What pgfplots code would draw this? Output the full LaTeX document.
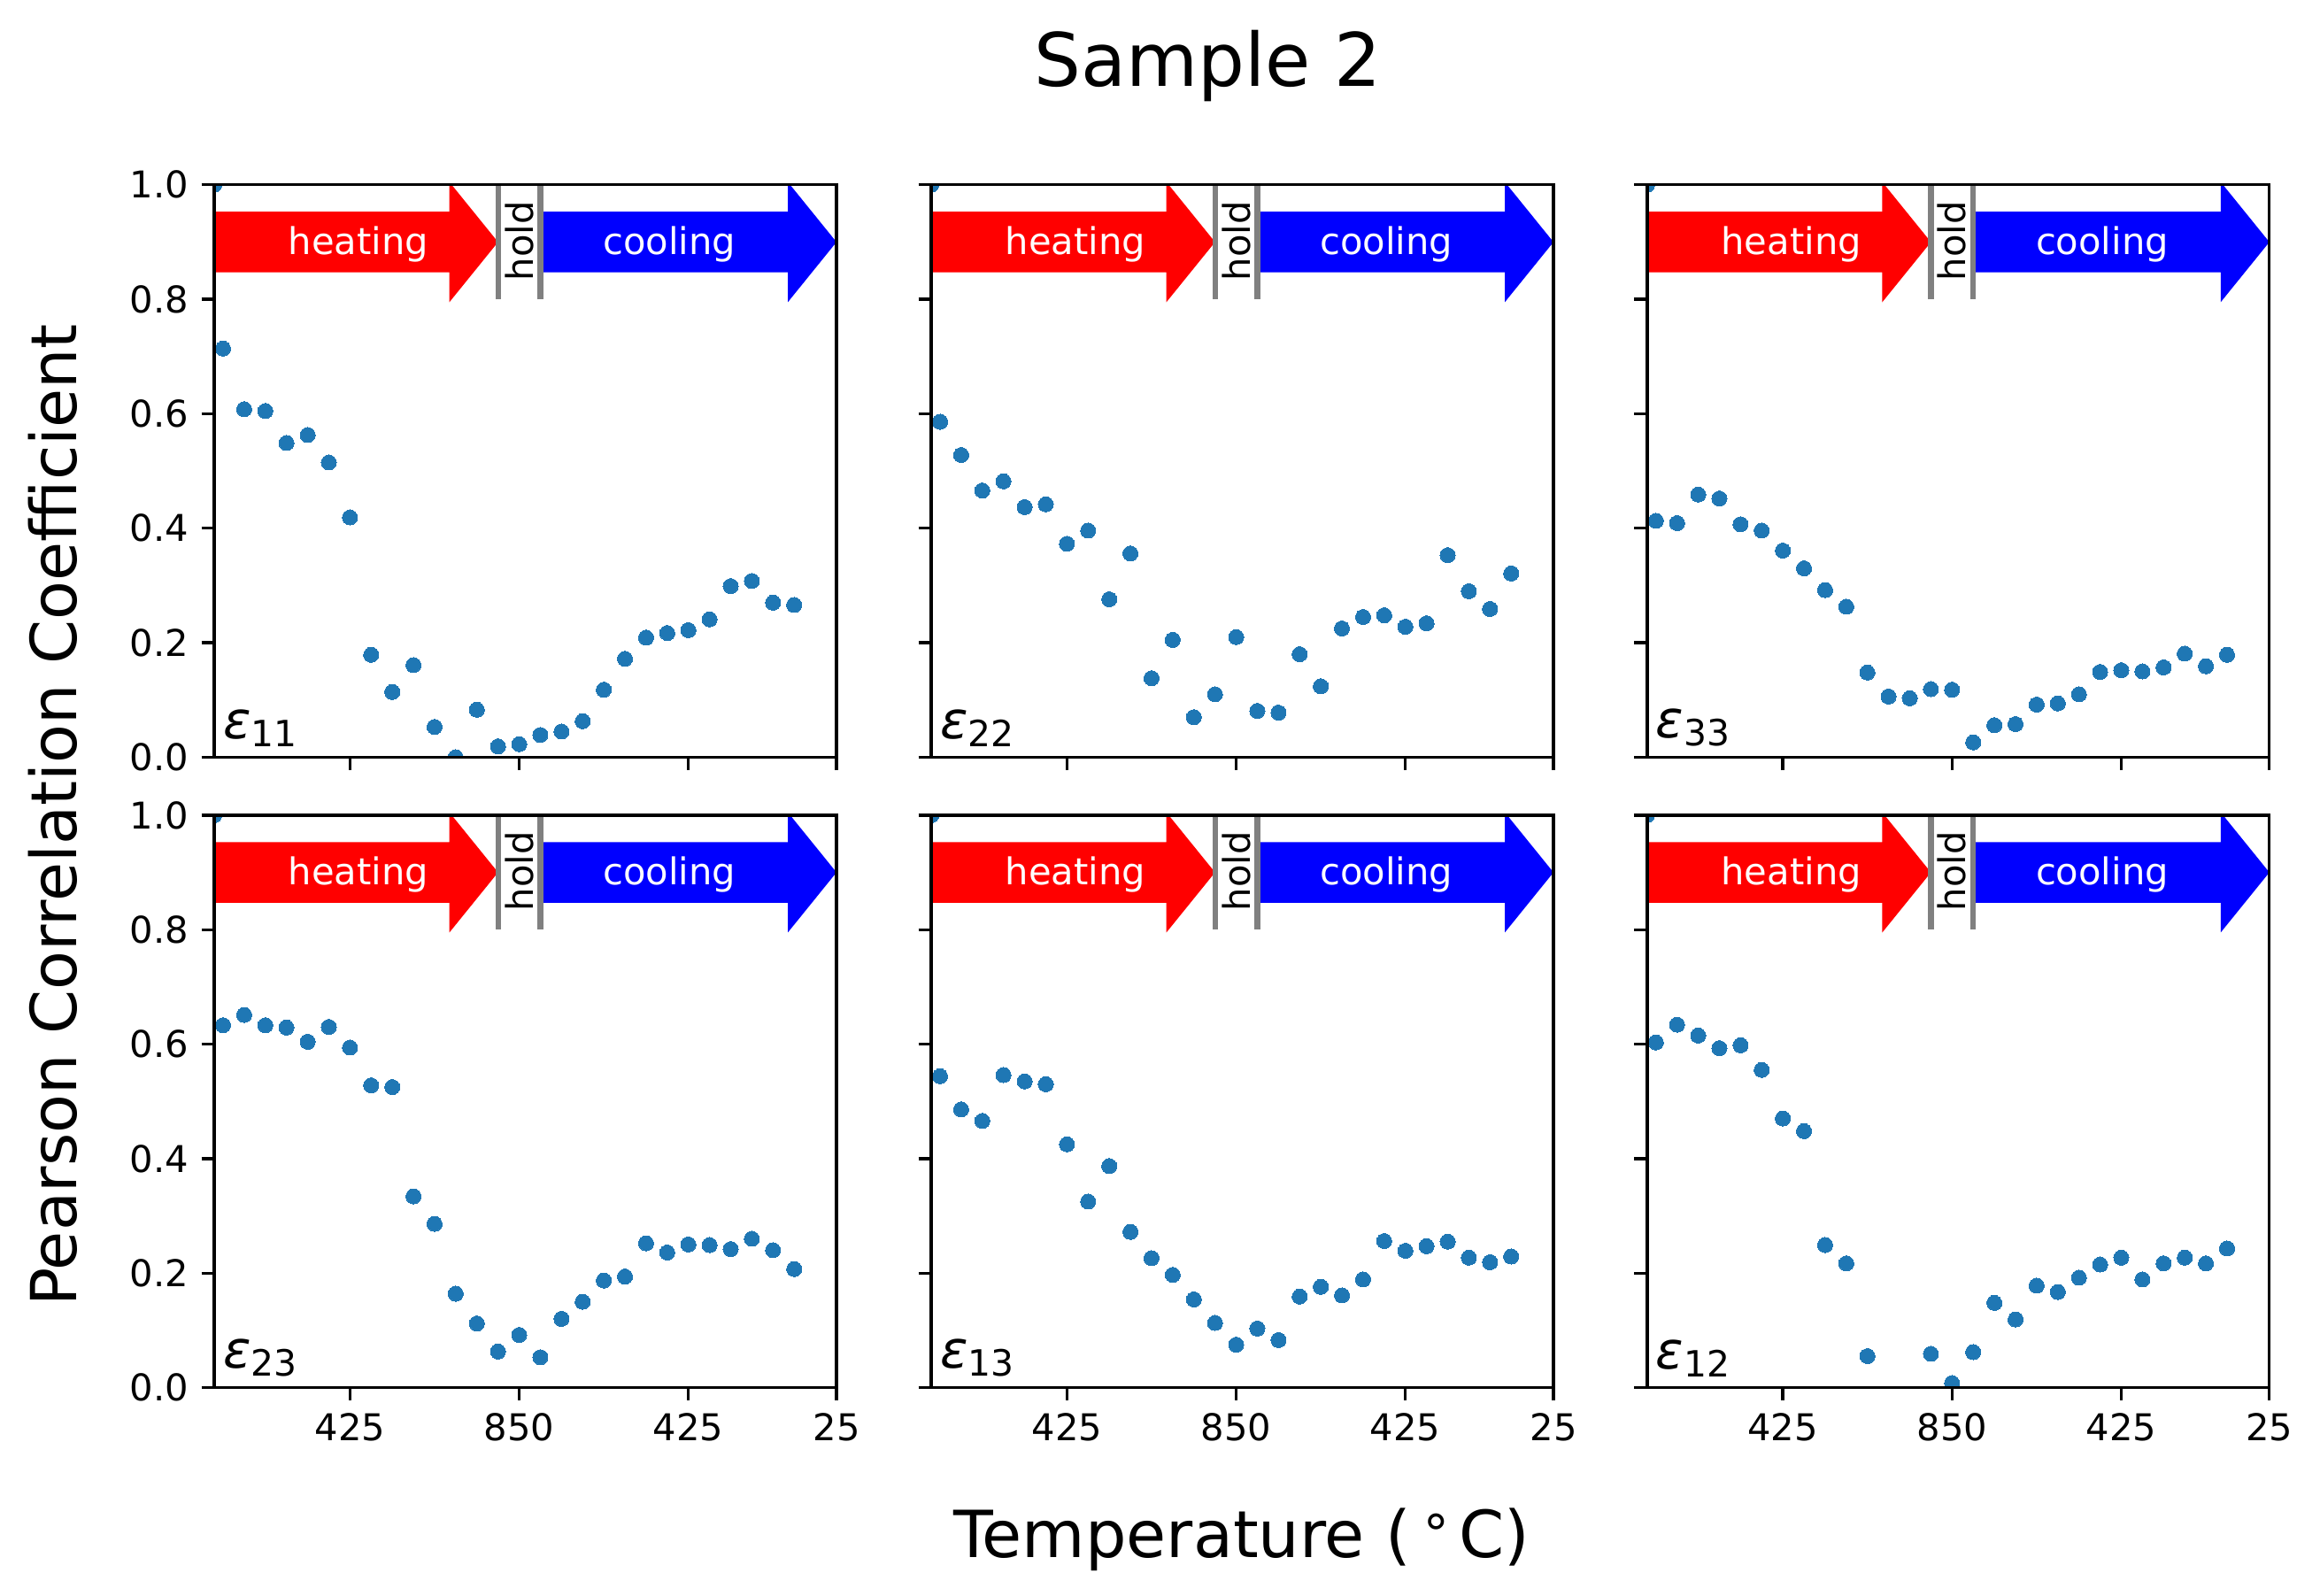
\documentclass[border=0pt]{standalone}
\usepackage{fontspec}
\setmainfont{DejaVu Sans}
\usepackage{pgfplots}
\pgfplotsset{compat=1.18}
\usepackage{pgfplotstable}
\definecolor{mplblue}{HTML}{1F77B4}
\definecolor{mplgray}{HTML}{808080}

\pgfplotstableread{
x y
0.585 1.0
1 0.714
2 0.608
3 0.605
4 0.549
5 0.563
6 0.515
7 0.419
8 0.179
9 0.114
10 0.161
11 0.053
12 0.000
13 0.083
14 0.019
15 0.023
16 0.039
17 0.045
18 0.063
19 0.118
20 0.172
21 0.209
22 0.217
23 0.222
24 0.241
25 0.299
26 0.308
27 0.270
28 0.266
}\dataA

\pgfplotstableread{
x y
0.585 1.0
1 0.586
2 0.528
3 0.466
4 0.482
5 0.437
6 0.442
7 0.373
8 0.396
9 0.276
10 0.356
11 0.138
12 0.205
13 0.070
14 0.110
15 0.210
16 0.081
17 0.078
18 0.180
19 0.124
20 0.225
21 0.245
22 0.248
23 0.228
24 0.234
25 0.353
26 0.290
27 0.259
28 0.321
}\dataB

\pgfplotstableread{
x y
0.585 1.0
1 0.413
2 0.409
3 0.459
4 0.452
5 0.407
6 0.396
7 0.361
8 0.330
9 0.292
10 0.263
11 0.148
12 0.106
13 0.103
14 0.119
15 0.118
16 0.026
17 0.056
18 0.058
19 0.092
20 0.094
21 0.110
22 0.149
23 0.152
24 0.150
25 0.157
26 0.181
27 0.159
28 0.179
}\dataC

\pgfplotstableread{
x y
0.585 1.0
1 0.633
2 0.651
3 0.633
4 0.629
5 0.604
6 0.630
7 0.594
8 0.528
9 0.525
10 0.334
11 0.286
12 0.164
13 0.112
14 0.063
15 0.092
16 0.053
17 0.120
18 0.150
19 0.187
20 0.194
21 0.252
22 0.236
23 0.250
24 0.249
25 0.242
26 0.260
27 0.240
28 0.207
}\dataD

\pgfplotstableread{
x y
0.585 1.0
1 0.544
2 0.486
3 0.466
4 0.546
5 0.535
6 0.530
7 0.425
8 0.325
9 0.387
10 0.272
11 0.226
12 0.197
13 0.154
14 0.113
15 0.075
16 0.103
17 0.083
18 0.159
19 0.176
20 0.161
21 0.189
22 0.256
23 0.239
24 0.247
25 0.255
26 0.227
27 0.219
28 0.229
}\dataE

\pgfplotstableread{
x y
0.585 1.0
1 0.603
2 0.634
3 0.615
4 0.593
5 0.598
6 0.555
7 0.470
8 0.448
9 0.249
10 0.217
11 0.055
12 -0.060
13 -0.005
14 0.059
15 0.008
16 0.062
17 0.148
18 0.119
19 0.178
20 0.167
21 0.192
22 0.215
23 0.227
24 0.189
25 0.217
26 0.227
27 0.217
28 0.243
}\dataF

\pgfplotsset{
  panel/.style={
    scale only axis, width=168.7pt, height=155.2pt,
    anchor=north west,
    xmin=0.585, xmax=30, ymin=0, ymax=1,
    xtick={7,15,23,30}, xticklabels={425,850,425,25},
    ytick={0,0.2,0.4,0.6,0.8,1.0}, yticklabels={0.0,0.2,0.4,0.6,0.8,1.0},
    tick align=outside, tick pos=left,
    major tick length=3.5pt,
    every tick/.style={black, line width=0.8pt},
    axis line style={line width=0.8pt},
    ticklabel style={font=\fontsize{10}{12}\selectfont},
    /pgf/number format/assume math mode=true,
    clip marker paths=true,
    axis on top,
  },
  nox/.style={xticklabels={}},
  noy/.style={yticklabels={}},
}

\newcommand{\panel}[5]{%
\begin{axis}[panel, at={(#1,#2)}, #5]
  \addplot[draw=none, fill=red, forget plot] coordinates {(0.3,0.847) (11.7,0.847) (11.7,0.795) (14,0.9) (11.7,1.005) (11.7,0.953) (0.3,0.953)} -- cycle;
  \addplot[draw=none, fill=blue, forget plot] coordinates {(16,0.847) (27.7,0.847) (27.7,0.795) (30,0.9) (27.7,1.005) (27.7,0.953) (16,0.953)} -- cycle;
  \addplot[mplgray, line width=1.5pt, forget plot] coordinates {(14,0.8) (14,1.0)};
  \addplot[mplgray, line width=1.5pt, forget plot] coordinates {(16,0.8) (16,1.0)};
  \node[text=white, font=\fontsize{10}{12}\selectfont] at (axis cs:7.4,0.896) {heating};
  \node[text=white, font=\fontsize{10}{12}\selectfont] at (axis cs:22.1,0.896) {cooling};
  \node[rotate=90, font=\fontsize{10}{12}\selectfont] at (axis cs:15,0.902) {hold};
  \addplot[mplblue, only marks, mark=*, mark size=2.05pt, mark options={draw=mplblue, fill=mplblue, line width=0pt}] table {#3};
  \node[anchor=south west, inner sep=0pt, font=\fontsize{14}{16}\selectfont] at ([xshift=2.2pt, yshift=2.7pt]rel axis cs:0,0) {\textit{ε}\raisebox{-2.2pt}{\fontsize{9.8}{11}\selectfont #4}};
\end{axis}}

\begin{document}
\begin{tikzpicture}
\path[use as bounding box] (0,0) rectangle (629.04pt,432.72pt);
\panel{58.1pt}{382.6pt}{\dataA}{11}{nox}
\panel{252.5pt}{382.6pt}{\dataB}{22}{nox,noy}
\panel{446.6pt}{382.6pt}{\dataC}{33}{nox,noy}
\panel{58.1pt}{211.7pt}{\dataD}{23}{}
\panel{252.5pt}{211.7pt}{\dataE}{13}{noy}
\panel{446.6pt}{211.7pt}{\dataF}{12}{noy}
\node[font=\fontsize{20}{24}\selectfont, anchor=base] at (327.4pt,409.4pt) {Sample 2};
\node[font=\fontsize{17.6}{22}\selectfont, anchor=base] at (336.7pt,10.5pt) {Temperature (\hspace{0.15em}\raisebox{5.2pt}{\fontsize{14}{14}\selectfont ∘}\hspace{0.1em}C)};
\node[font=\fontsize{17.2}{22}\selectfont, rotate=90] at (14.4pt,211.7pt) {Pearson Correlation Coefficient};
\end{tikzpicture}
\end{document}
